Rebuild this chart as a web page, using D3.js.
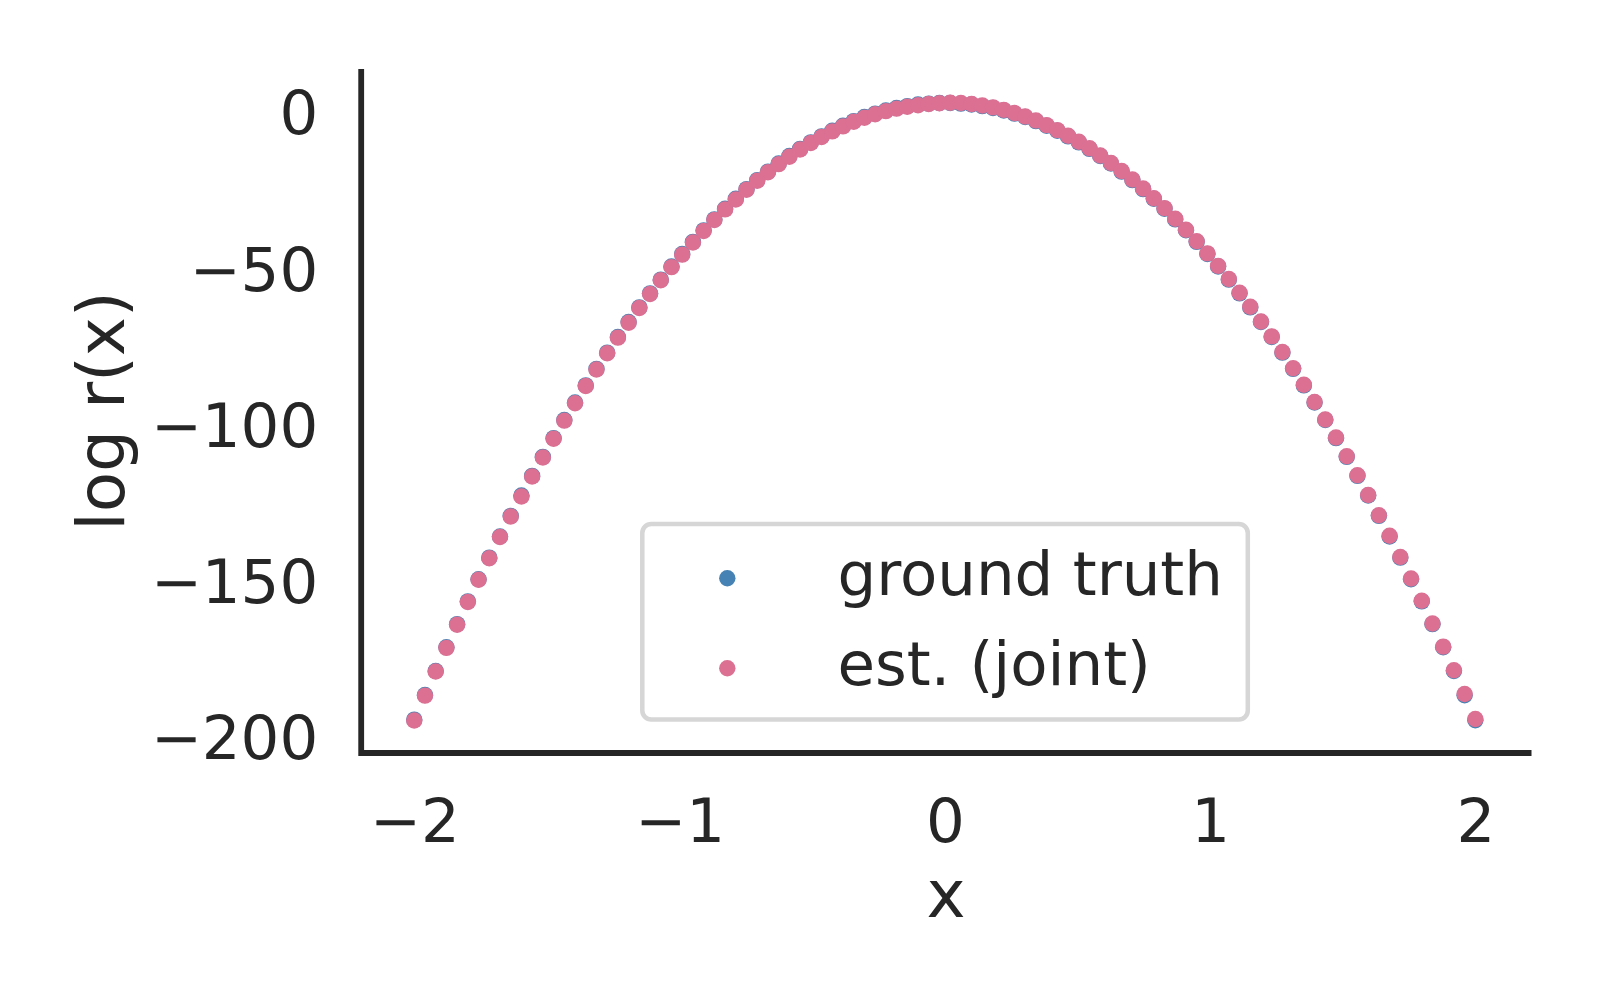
<!DOCTYPE html>
<html>
<head>
<meta charset="utf-8">
<script src="https://cdn.jsdelivr.net/npm/d3@7"></script>
<style>
  html, body { margin: 0; padding: 0; background: #ffffff; }
  svg { display: block; }
  text { font-family: "DejaVu Sans", sans-serif; fill: #262626; }
</style>
</head>
<body>
<svg id="chart" width="1600" height="1000"></svg>
<script>
// ---- data ----
const xValues = [
  -2.0000, -1.9596, -1.9192, -1.8788, -1.8384, -1.7980, -1.7576, -1.7172, -1.6768, -1.6364,
  -1.5960, -1.5556, -1.5152, -1.4747, -1.4343, -1.3939, -1.3535, -1.3131, -1.2727, -1.2323,
  -1.1919, -1.1515, -1.1111, -1.0707, -1.0303, -0.9899, -0.9495, -0.9091, -0.8687, -0.8283,
  -0.7879, -0.7475, -0.7071, -0.6667, -0.6263, -0.5859, -0.5455, -0.5051, -0.4646, -0.4242,
  -0.3838, -0.3434, -0.3030, -0.2626, -0.2222, -0.1818, -0.1414, -0.1010, -0.0606, -0.0202,
  0.0202, 0.0606, 0.1010, 0.1414, 0.1818, 0.2222, 0.2626, 0.3030, 0.3434, 0.3838,
  0.4242, 0.4646, 0.5051, 0.5455, 0.5859, 0.6263, 0.6667, 0.7071, 0.7475, 0.7879,
  0.8283, 0.8687, 0.9091, 0.9495, 0.9899, 1.0303, 1.0707, 1.1111, 1.1515, 1.1919,
  1.2323, 1.2727, 1.3131, 1.3535, 1.3939, 1.4343, 1.4747, 1.5152, 1.5556, 1.5960,
  1.6364, 1.6768, 1.7172, 1.7576, 1.7980, 1.8384, 1.8788, 1.9192, 1.9596, 2.0000
];

const groundTruth = [
  -194.4, -186.5, -178.8, -171.2, -163.8, -156.5, -149.4, -142.5, -135.7, -129.1,
  -122.6, -116.3, -110.2, -104.2, -98.4, -92.8, -87.3, -82.0, -76.8, -71.8,
  -67.0, -62.3, -57.8, -53.4, -49.2, -45.2, -41.3, -37.6, -34.1, -30.7,
  -27.5, -24.4, -21.5, -18.8, -16.2, -13.8, -11.5, -9.4, -7.5, -5.7,
  -4.1, -2.6, -1.3, -0.2, 0.8, 1.6, 2.2, 2.7, 3.0, 3.2,
  3.2, 3.0, 2.7, 2.2, 1.6, 0.8, -0.2, -1.3, -2.6, -4.1,
  -5.7, -7.5, -9.4, -11.5, -13.8, -16.2, -18.8, -21.5, -24.4, -27.5,
  -30.7, -34.1, -37.6, -41.3, -45.2, -49.2, -53.4, -57.8, -62.3, -67.0,
  -71.8, -76.8, -82.0, -87.3, -92.8, -98.4, -104.2, -110.2, -116.3, -122.6,
  -129.1, -135.7, -142.5, -149.4, -156.5, -163.8, -171.2, -178.8, -186.6, -194.6
];

const estJoint = [
  -194.7, -186.7, -179.0, -171.4, -164.0, -156.7, -149.6, -142.7, -135.9, -129.3,
  -122.9, -116.5, -110.4, -104.4, -98.6, -93.0, -87.5, -82.2, -77.0, -72.0,
  -67.2, -62.5, -58.0, -53.6, -49.4, -45.4, -41.5, -37.8, -34.3, -30.9,
  -27.7, -24.6, -21.7, -19.0, -16.4, -14.0, -11.7, -9.6, -7.7, -5.9,
  -4.3, -2.8, -1.5, -0.4, 0.6, 1.4, 2.0, 2.5, 2.9, 3.1,
  3.3, 3.2, 2.9, 2.4, 1.8, 1.0, 0.0, -1.1, -2.4, -3.9,
  -5.5, -7.3, -9.2, -11.3, -13.6, -16.0, -18.6, -21.3, -24.2, -27.3,
  -30.5, -33.9, -37.4, -41.1, -45.0, -49.0, -53.2, -57.6, -62.1, -66.8,
  -71.6, -76.6, -81.8, -87.1, -92.6, -98.2, -104.0, -110.0, -116.1, -122.4,
  -128.9, -135.5, -142.3, -149.2, -156.3, -163.6, -171.0, -178.6, -186.2, -194.2
];

const xTicks = [-2, -1, 0, 1, 2];
const yTicks = [0, -50, -100, -150, -200];
const seriesNames = ["ground truth", "est. (joint)"];
const seriesColors = ["#4682b4", "#db7093"];

// ---- layout ----
const svg = d3.select("#chart");
const pLeft = 361.2, pRight = 1531.5, pTop = 69, pBottom = 753;

const x = d3.scaleLinear().domain([-2.2, 2.2117]).range([pLeft, pRight]);
const y = d3.scaleLinear().domain([-205.1, 14.1]).range([pBottom, pTop]);

const fmt = d => (d < 0 ? "\u2212" + Math.abs(d) : String(d));

// points
const series = [groundTruth, estJoint];
series.forEach((vals, si) => {
  svg.append("g")
    .selectAll("circle")
    .data(vals.map((v, i) => [xValues[i], v]))
    .join("circle")
    .attr("cx", d => x(d[0]))
    .attr("cy", d => y(d[1]))
    .attr("r", 8.2)
    .attr("fill", seriesColors[si]);
});

// axes via d3 axis generators (no tick lines, like seaborn white style)
const xAxis = svg.append("g")
  .attr("transform", `translate(0,${pBottom})`)
  .call(d3.axisBottom(x).tickValues(xTicks).tickSize(0).tickPadding(0).tickFormat(fmt));
xAxis.select(".domain").remove();
xAxis.selectAll("text")
  .attr("y", 89)
  .attr("dy", null)
  .style("font-family", "'DejaVu Sans', sans-serif")
  .style("font-size", "61px")
  .attr("fill", "#262626");

const yAxis = svg.append("g")
  .attr("transform", `translate(${pLeft},0)`)
  .call(d3.axisLeft(y).tickValues(yTicks).tickSize(0).tickPadding(0).tickFormat(fmt));
yAxis.select(".domain").remove();
yAxis.selectAll("text")
  .attr("x", -43)
  .attr("dy", null)
  .attr("y", 21)
  .attr("text-anchor", "end")
  .style("font-family", "'DejaVu Sans', sans-serif")
  .style("font-size", "61px")
  .attr("fill", "#262626");

// spines
svg.append("path")
  .attr("d", `M${pLeft},${pTop}V${pBottom}H${pRight}`)
  .attr("fill", "none")
  .attr("stroke", "#262626")
  .attr("stroke-width", 5.8)
  .attr("stroke-linejoin", "miter");

// axis labels
svg.append("text")
  .attr("x", 946)
  .attr("y", 917)
  .attr("text-anchor", "middle")
  .style("font-size", "66px")
  .text("x");

svg.append("text")
  .attr("transform", `translate(124,${(pTop + pBottom) / 2}) rotate(-90)`)
  .attr("text-anchor", "middle")
  .style("font-size", "66px")
  .text("log r(x)");

// legend
const lg = svg.append("g");
lg.append("rect")
  .attr("x", 642.3).attr("y", 524)
  .attr("width", 605.5).attr("height", 195.5)
  .attr("rx", 9).attr("ry", 9)
  .attr("fill", "#ffffff")
  .attr("stroke", "#d6d6d6")
  .attr("stroke-width", 4.5);

const legendRows = [578.3, 668.3];
seriesNames.forEach((name, i) => {
  lg.append("circle")
    .attr("cx", 727.3).attr("cy", legendRows[i])
    .attr("r", 8.2)
    .attr("fill", seriesColors[i]);
  lg.append("text")
    .attr("x", 837.5).attr("y", legendRows[i] + 17)
    .style("font-size", "61px")
    .text(name);
});
</script>
</body>
</html>
